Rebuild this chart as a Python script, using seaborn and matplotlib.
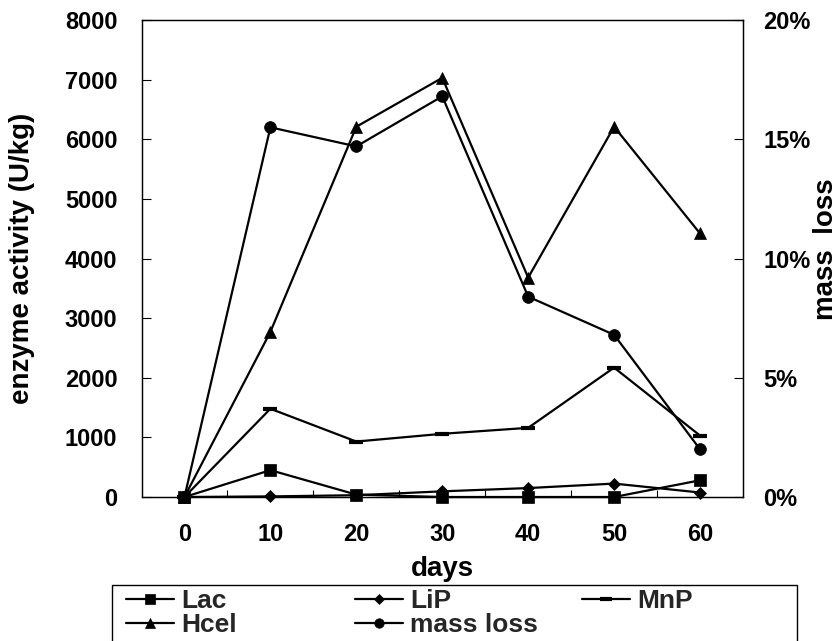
import matplotlib
matplotlib.use("Agg")
import matplotlib.pyplot as plt
import seaborn as sns
from matplotlib.ticker import PercentFormatter, FixedLocator
from matplotlib.patches import Rectangle

# ---- data ----
days = [0, 10, 20, 30, 40, 50, 60]
lac = [0, 450, 40, 0, 0, 0, 280]
lip = [0, 10, 30, 95, 150, 225, 75]
mnp = [0, 1480, 930, 1060, 1160, 2170, 1030]
hcel = [0, 2770, 6210, 7030, 3680, 6210, 4420]
mass_loss = [0.0, 0.155, 0.147, 0.168, 0.084, 0.068, 0.020]

left_ticks = [0, 1000, 2000, 3000, 4000, 5000, 6000, 7000, 8000]
right_ticks = [0.0, 0.05, 0.10, 0.15, 0.20]
boundaries = [5, 15, 25, 35, 45, 55]

sns.set_theme(style="white")
plt.rcParams['font.family'] = ['Liberation Sans', 'DejaVu Sans']
plt.rcParams['font.weight'] = 'bold'
plt.rcParams['axes.labelweight'] = 'bold'

W, H = 838, 641
fig = plt.figure(figsize=(W / 100, H / 100), dpi=100)
fig.patch.set_facecolor('white')
ax = fig.add_axes([141.5 / W, 1 - 497 / H, (743 - 141.5) / W, (497 - 20) / H])
ax.set_facecolor('white')

common = dict(color='black', linewidth=1.6, markeredgecolor='black', clip_on=False)
sns.lineplot(x=days, y=lac, ax=ax, marker='s', markersize=8.5, markeredgewidth=0.5,
             label='Lac', legend=False, **common)
sns.lineplot(x=days, y=lip, ax=ax, marker='D', markersize=6.5, markeredgewidth=0.5,
             label='LiP', legend=False, **common)
sns.lineplot(x=days, y=mnp, ax=ax, marker='_', markersize=10, markeredgewidth=3,
             label='MnP', legend=False, **common)
sns.lineplot(x=days, y=hcel, ax=ax, marker='^', markersize=9, markeredgewidth=0.5,
             label='Hcel', legend=False, **common)

ax2 = ax.twinx()
sns.lineplot(x=days, y=mass_loss, ax=ax2, marker='o', markersize=8.5, markeredgewidth=0.5,
             label='mass loss', legend=False, **common)

ax.set_xlim(-5, 65)
ax.set_ylim(0, 8000)
ax2.set_ylim(0, 0.20)

ax.set_xticks(days)
ax.set_xticklabels([str(d) for d in days])
ax.xaxis.set_minor_locator(FixedLocator(boundaries))
ax.set_yticks(left_ticks)
ax.set_yticklabels([str(v) for v in left_ticks])
ax2.set_yticks(right_ticks)
ax2.yaxis.set_major_formatter(PercentFormatter(1.0, decimals=0))

ax.tick_params(axis='x', which='major', length=0, pad=19, labelsize=17, colors='black')
ax.tick_params(axis='x', which='minor', length=5, width=0.8, direction='in', bottom=True, color='black')
ax.tick_params(axis='y', which='major', length=6.5, width=0.8, direction='in', left=True,
               pad=17.4, labelsize=17, colors='black')
ax2.tick_params(axis='y', which='major', length=6.5, width=0.8, direction='in', right=True,
                pad=14.6, labelsize=17, colors='black')
for a in (ax, ax2):
    for s in a.spines.values():
        s.set_color('black')
        s.set_linewidth(0.9)
        s.set_visible(True)
ax2.grid(False)
ax.grid(False)

ax.set_xlabel('days', fontsize=20, fontweight='bold', color='black')
ax.xaxis.label.set_va('center')
ax.xaxis.set_label_coords(0.5, (497 - 569) / 477)
ax.set_ylabel('enzyme activity (U/kg)', fontsize=20, fontweight='bold', color='black')
ax.yaxis.label.set_va('center')
ax.yaxis.set_label_coords((22 - 141.5) / 601.5, 0.5)
ax2.set_ylabel('mass  loss', fontsize=20, fontweight='bold', color='black')
ax2.yaxis.label.set_va('center')
ax2.yaxis.set_label_coords((826 - 141.5) / 601.5, 0.52)

# ---- legend (three equal-width columns like the original) ----
lines = {l.get_label(): l for l in ax.get_lines() + ax2.get_lines()}
cols = [(['Lac', 'Hcel'], 126), (['LiP', 'mass loss'], 355), (['MnP'], 582)]
for names, xpx in cols:
    fig.legend([lines[n] for n in names], names, loc='upper left',
               bbox_to_anchor=(xpx / W, 1 - 589 / H), bbox_transform=fig.transFigure,
               frameon=False, borderpad=0, borderaxespad=0, handlelength=1.8,
               handletextpad=0.3, labelspacing=0.0, markerscale=0.8,
               prop={'family': ['Liberation Sans'], 'weight': 'bold', 'size': 19})

fig.add_artist(Rectangle((112 / W, -0.05), (797 - 112) / W, (641 - 585) / H + 0.05,
                         transform=fig.transFigure, fill=False, edgecolor='black',
                         linewidth=1.0, clip_on=False))

fig.savefig('out.png', dpi=100, facecolor='white')
